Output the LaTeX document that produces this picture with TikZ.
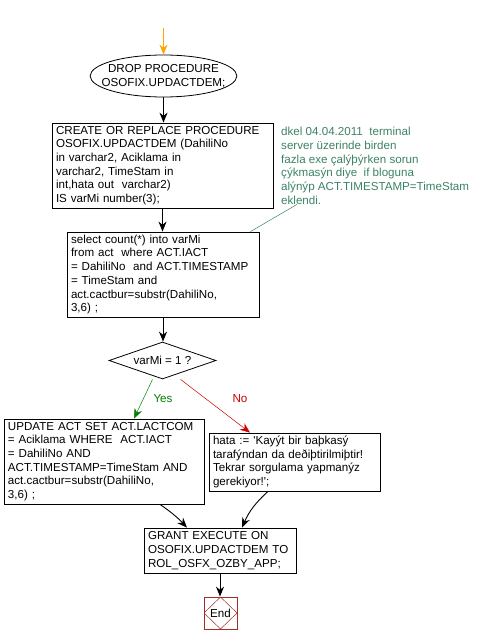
\documentclass[tikz,border=0pt]{standalone}
\usepackage{fontspec}
\setmainfont{Liberation Sans}
\usetikzlibrary{shapes.geometric,arrows.meta}
\definecolor{notegreen}{RGB}{61,130,100}
\definecolor{yesgreen}{RGB}{0,128,0}
\definecolor{nored}{RGB}{204,0,0}
\definecolor{startorange}{RGB}{255,165,0}
\definecolor{endred}{RGB}{165,42,42}
\newcommand\boxfont{\fontsize{11.6}{13.7}\selectfont}
\tikzset{
  flow/.style={-{Stealth[length=10pt,width=8pt]}, line width=0.9pt},
  thinflow/.style={-{Stealth[length=10pt,width=8pt]}, line width=0.5pt},
  stepbox/.style={draw, rectangle, line width=0.8pt, inner xsep=4pt, inner ysep=0pt,
    align=left, font=\boxfont, text width=#1},
  endbox/.style={draw=endred, rectangle, line width=0.8pt, minimum width=33pt,
    minimum height=32pt, inner sep=0pt, font=\boxfont,
    path picture={\draw[endred, line width=0.5pt] (path picture bounding box.north)
      -- (path picture bounding box.east) -- (path picture bounding box.south)
      -- (path picture bounding box.west) -- cycle;}}
}
\begin{document}
\begin{tikzpicture}[x=1pt,y=-1pt]
  \useasboundingbox (0,0) rectangle (486,644);
  \coordinate (start) at (163.5,28);
  \node[draw, ellipse, line width=0.8pt, minimum width=145pt, minimum height=42pt,
    inner xsep=-10pt, inner ysep=-6pt, align=center, font=\boxfont] (drop) at (163.5,76)
    {DROP PROCEDURE\\OSOFIX.UPDACTDEM;};
  \node[stepbox=213pt, minimum height=85pt] (create) at (162.5,165.5)
    {CREATE OR REPLACE PROCEDURE\\
     OSOFIX.UPDACTDEM (DahiliNo\\
     in varchar2, Aciklama in\\
     varchar2, TimeStam in\\
     int,hata out~ varchar2)\\
     IS varMi number(3);};
  \node[anchor=north west, inner sep=0pt, align=left, font=\boxfont, text=notegreen] (note) at (281,127)
    {dkel 04.04.2011~ terminal\\
     server üzerinde birden\\
     fazla exe çalýþýrken sorun\\
     çýkmasýn diye~ if bloguna\\
     alýnýp ACT.TIMESTAMP=TimeStam\\
     eklendi.};
  \node[stepbox=184pt, minimum height=85pt] (sel) at (163,274.5)
    {select count(*) into varMi\\
     from act~ where ACT.IACT\\
     = DahiliNo~ and ACT.TIMESTAMP\\
     = TimeStam and\\
     act.cactbur=substr(DahiliNo,\\
     3,6) ;};
  \node[draw, diamond, aspect=2.9, line width=0.8pt, minimum width=107pt, minimum height=37pt,
    inner sep=0pt, font=\boxfont] (dec) at (162.5,360.5) {varMi = 1 ?};
  \node[stepbox=192pt, minimum height=85pt] (upd) at (104,461.5)
    {UPDATE ACT SET ACT.LACTCOM\\
     = Aciklama WHERE~ ACT.IACT\\
     = DahiliNo AND\\
     ACT.TIMESTAMP=TimeStam AND\\
     act.cactbur=substr(DahiliNo,\\
     3,6) ;};
  \node[stepbox=163pt, minimum height=58pt] (hata) at (294.5,462)
    {hata := \textquotesingle Kayýt bir baþkasý\\
     tarafýndan da deðiþtirilmiþtir!\\
     Tekrar sorgulama yapmanýz\\
     gerekiyor!\textquotesingle;};
  \node[stepbox=144pt, minimum height=45pt] (grant) at (220,550.5)
    {GRANT EXECUTE ON\\
     OSOFIX.UPDACTDEM TO\\
     ROL\_OSFX\_OZBY\_APP;};
  \node[endbox] (endn) at (220.5,613) {End};
  \node[font=\boxfont, text=yesgreen] (yes) at (163,399) {Yes};
  \node[font=\boxfont, text=nored] (no) at (240,399) {No};

  \draw[flow, startorange] (start) -- (drop.north);
  \draw[flow] (drop.south) -- (drop.south |- create.north);
  \draw[flow] (create.south) -- (create.south |- sel.north);
  \draw[flow] (sel.south) -- (sel.south |- dec.north);
  \draw[notegreen, line width=0.5pt] ([xshift=16pt]note.south west) -- ([xshift=-9pt]sel.north east);
  \draw[thinflow, yesgreen] ([xshift=-10pt]dec.south) -- ([xshift=30pt]upd.north);
  \draw[thinflow, nored] ([xshift=18pt]dec.south) -- ([xshift=-44.5pt]hata.north);
  \draw[flow] ([xshift=56pt]upd.south) to[bend left=6] ([xshift=-33pt]grant.north);
  \draw[flow] ([xshift=-26.5pt]hata.south) to[bend right=12] ([xshift=22pt]grant.north);
  \draw[flow] (grant.south) -- (grant.south |- endn.north);
\end{tikzpicture}
\end{document}
